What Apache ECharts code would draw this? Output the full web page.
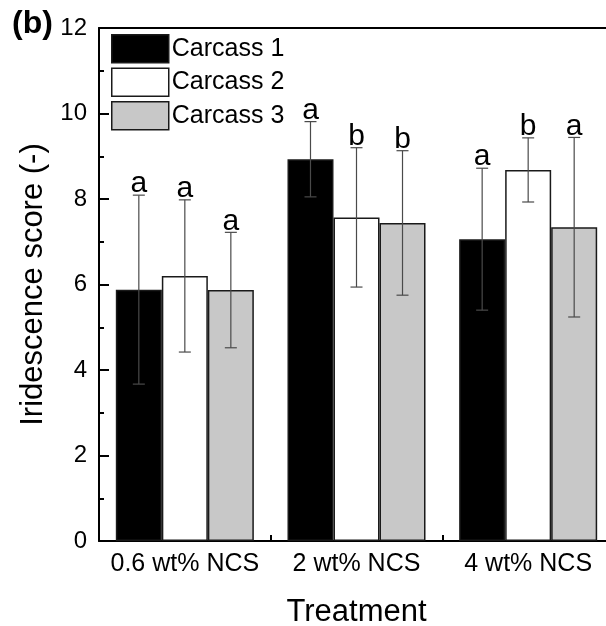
<!DOCTYPE html>
<html>
<head>
<meta charset="utf-8">
<script src="https://cdn.jsdelivr.net/npm/echarts@6/dist/echarts.min.js"></script>
<style>html,body{margin:0;padding:0;background:#fff;overflow:hidden;}#c{width:606px;height:626px;}</style>
</head>
<body>
<div id="c"></div>
<script>
var categories = ['0.6 wt% NCS', '2 wt% NCS', '4 wt% NCS'];
var seriesNames = ['Carcass 1', 'Carcass 2', 'Carcass 3'];
var carcass1 = [5.88, 8.93, 7.06];
var carcass2 = [6.20, 7.57, 8.68];
var carcass3 = [5.87, 7.44, 7.34];
var err1 = [2.21, 0.88, 1.66];
var err2 = [1.78, 1.63, 0.75];
var err3 = [1.35, 1.69, 2.10];
var letters1 = ['a', 'a', 'a'];
var letters2 = ['a', 'b', 'b'];
var letters3 = ['a', 'b', 'a'];
var yTicks = [0, 2, 4, 6, 8, 10, 12];

var FONT = 'Liberation Sans, Arial, sans-serif';
var colors = ['#000000', '#ffffff', '#c8c8c8'];
var values = [carcass1, carcass2, carcass3];
var errs = [err1, err2, err3];
var letters = [letters1, letters2, letters3];
var BAR_FRAC = 0.268;

var chart = echarts.init(document.getElementById('c'), null, {renderer: 'canvas'});

var series = [];
for (var k = 0; k < 3; k++) {
  series.push({
    name: seriesNames[k],
    type: 'bar',
    xAxisIndex: 0,
    data: values[k],
    barWidth: (BAR_FRAC * 100) + '%',
    barGap: '0%',
    itemStyle: {color: colors[k], borderColor: '#1a1a1a', borderWidth: 1.5},
    emphasis: {disabled: true},
    silent: true,
    z: 2
  });
}
for (var k2 = 0; k2 < 3; k2++) {
  (function (k) {
    var data = values[k].map(function (v, i) {
      return [i, v - errs[k][i], v + errs[k][i], letters[k][i]];
    });
    series.push({
      name: seriesNames[k] + ' err',
      type: 'custom',
      xAxisIndex: 0,
      data: data,
      silent: true,
      clip: false,
      z: 5,
      renderItem: function (params, api) {
        var i = api.value(0);
        var lo = api.coord([i, api.value(1)]);
        var hi = api.coord([i, api.value(2)]);
        var band = api.size([1, 0])[0];
        var x = lo[0] + (k - 1) * BAR_FRAC * band;
        var cap = 6;
        var st = {stroke: '#4a4a4a', lineWidth: 1.2};
        return {
          type: 'group',
          children: [
            {type: 'line', shape: {x1: x, y1: lo[1], x2: x, y2: hi[1]}, style: st},
            {type: 'line', shape: {x1: x - cap, y1: lo[1], x2: x + cap, y2: lo[1]}, style: st},
            {type: 'line', shape: {x1: x - cap, y1: hi[1], x2: x + cap, y2: hi[1]}, style: st},
            {type: 'text', x: x, y: hi[1] + 4, style: {text: api.value(3), textAlign: 'center', textVerticalAlign: 'bottom', fontSize: 30, fontFamily: FONT, fill: '#000'}}
          ]
        };
      }
    });
  })(k2);
}

chart.setOption({
  animation: false,
  backgroundColor: '#fff',
  title: {text: '(b)', left: 12, top: 8, padding: 0, textStyle: {fontSize: 32, fontWeight: 'bold', fontFamily: FONT, color: '#000'}},
  legend: {
    data: seriesNames,
    orient: 'vertical',
    left: 106,
    top: 29,
    itemWidth: 57,
    itemHeight: 28,
    itemGap: 4,
    selectedMode: false,
    icon: 'rect',
    textStyle: {fontSize: 25, fontFamily: FONT, color: '#000', padding: [0, 0, 0, -2]},
    itemStyle: {borderColor: '#1a1a1a', borderWidth: 1.5}
  },
  grid: {left: 99, top: 28, width: 515, height: 513, outerBoundsMode: 'none', containLabel: false, show: false},
  xAxis: [{
    type: 'category',
    data: categories,
    position: 'bottom',
    axisLine: {lineStyle: {color: '#000', width: 2}},
    axisTick: {show: true, inside: true, alignWithLabel: true, length: 11, lineStyle: {color: '#000', width: 2}},
    axisLabel: {fontSize: 25, fontFamily: FONT, color: '#000', margin: 11, interval: 0, hideOverlap: false},
    name: 'Treatment',
    nameLocation: 'middle',
    nameGap: 56,
    nameTextStyle: {fontSize: 31, fontFamily: FONT, color: '#000'}
  }, {
    type: 'category',
    data: categories,
    position: 'bottom',
    axisLine: {show: false},
    axisTick: {show: true, inside: true, length: 6, lineStyle: {color: '#000', width: 2}},
    axisLabel: {show: false}
  }, {
    type: 'category',
    data: categories,
    position: 'top',
    axisLine: {show: true, lineStyle: {color: '#000', width: 2}},
    axisTick: {show: false},
    axisLabel: {show: false}
  }],
  yAxis: {
    type: 'value',
    min: yTicks[0],
    max: yTicks[yTicks.length - 1],
    interval: 2,
    axisLine: {show: true, lineStyle: {color: '#000', width: 2}},
    axisTick: {show: true, inside: true, length: 10, lineStyle: {color: '#000', width: 2}},
    minorTick: {show: true, splitNumber: 2, length: 5, lineStyle: {color: '#000', width: 2}},
    splitLine: {show: false},
    axisLabel: {fontSize: 24, fontFamily: FONT, color: '#000', margin: 12},
    name: 'Iridescence score (-)',
    nameLocation: 'middle',
    nameGap: 50,
    nameTextStyle: {fontSize: 31, fontFamily: FONT, color: '#000'}
  },
  series: series
});
</script>
</body>
</html>
